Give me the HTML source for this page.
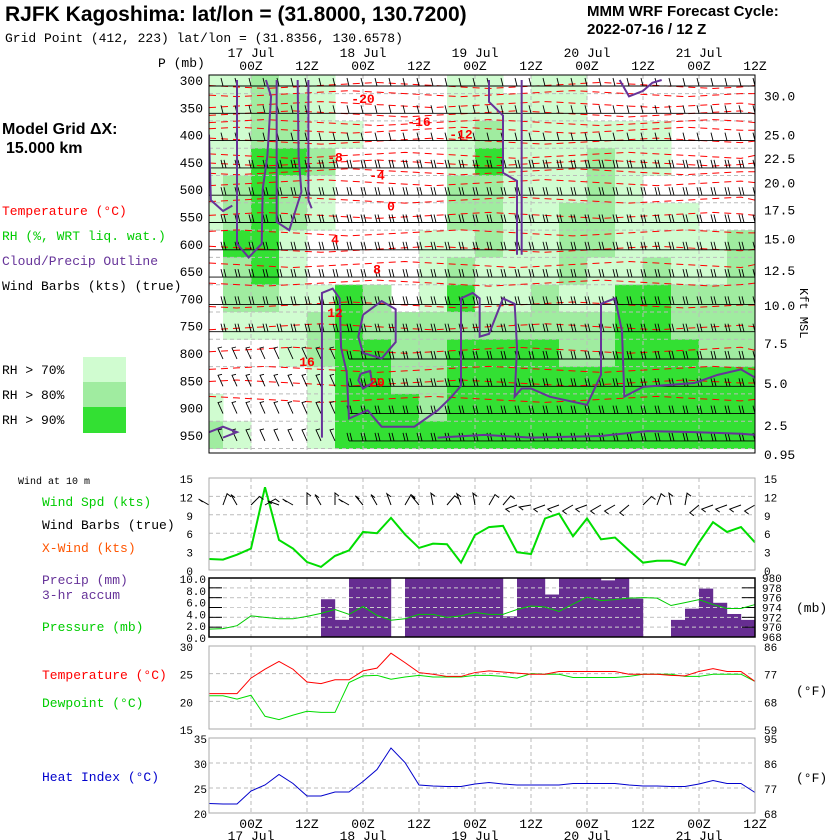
<!DOCTYPE html>
<html><head><meta charset="utf-8"><style>
html,body{margin:0;padding:0;background:#fff;}
svg{display:block;font-family:"Liberation Mono",monospace;}
.t{font-family:"Liberation Sans",sans-serif;font-weight:bold;}
</style></head><body>
<svg id="c" width="840" height="840" viewBox="0 0 840 840" xmlns="http://www.w3.org/2000/svg">
<text class="t" x="5" y="21" font-size="21">RJFK Kagoshima:  lat/lon = (31.8000, 130.7200)</text>
<text x="5" y="42" font-size="13">Grid Point (412, 223) lat/lon = (31.8356, 130.6578)</text>
<text class="t" x="587" y="16" font-size="15">MMM WRF Forecast Cycle:</text>
<text class="t" x="587" y="34" font-size="15">2022-07-16 / 12  Z</text>
<text class="t" x="2" y="134" font-size="16">Model Grid ΔX:</text>
<text class="t" x="6" y="153" font-size="16">15.000 km</text>
<g font-size="13">
<text x="2" y="215" fill="#ff0000">Temperature (°C)</text>
<text x="2" y="240" fill="#00cc00">RH (%, WRT liq. wat.)</text>
<text x="2" y="265" fill="#663399">Cloud/Precip Outline</text>
<text x="2" y="290" fill="#000">Wind Barbs (kts) (true)</text>
<text x="2" y="374">RH &gt; 70%</text>
<text x="2" y="399">RH &gt; 80%</text>
<text x="2" y="424">RH &gt; 90%</text>
</g>
<rect x="83" y="357" width="43" height="25" fill="#d0fcd0"/>
<rect x="83" y="382" width="43" height="25" fill="#a0eca0"/>
<rect x="83" y="407" width="43" height="26" fill="#33e033"/>
<text x="158" y="67" font-size="13">P (mb)</text>
<text x="820" y="268" font-size="12" transform="rotate(90 800 268)">Kft MSL</text>
<g font-size="13">
<text x="18" y="484" font-size="10">Wind at 10 m</text>
<text x="42" y="506" fill="#00cc00">Wind Spd (kts)</text>
<text x="42" y="529">Wind Barbs (true)</text>
<text x="42" y="552" fill="#ff5500">X-Wind (kts)</text>
<text x="42" y="584" fill="#663399">Precip (mm)</text>
<text x="42" y="599" fill="#663399">3-hr accum</text>
<text x="42" y="631" fill="#00cc00">Pressure (mb)</text>
<text x="42" y="679" fill="#ff0000">Temperature (°C)</text>
<text x="42" y="707" fill="#00cc00">Dewpoint (°C)</text>
<text x="42" y="781" fill="#0000cc">Heat Index (°C)</text>
<text x="796" y="612">(mb)</text>
<text x="796" y="695">(°F)</text>
<text x="796" y="782">(°F)</text>
</g>
<g id="plots"></g>
</svg>
<script>
// ---------- data ----------
const hours = []; for (let i = 0; i < 40; i++) hours.push(-9 + 3 * i);
const levels = [300,350,400,450,500,550,600,650,700,750,800,850,900,950];
const rhCols = [-9,-3,3,9,15,21,27,33,39,45,51,57,63,69,75,81,87,93,99,105];
const rhGrid = [
[1,1,2,1,1,0,0,0,0,1,1,0,1,1,0,0,0,0,0,0],
[1,1,2,2,1,0,0,0,0,1,1,1,1,1,0,0,0,0,0,0],
[1,1,2,2,1,1,0,0,0,1,2,1,1,1,1,1,1,0,0,0],
[1,1,3,3,2,0,0,0,0,1,3,1,1,1,2,1,1,0,0,0],
[1,2,3,2,1,0,0,0,0,2,2,1,1,1,2,1,0,0,0,0],
[1,2,3,2,1,0,0,0,0,2,2,1,1,2,2,1,1,1,0,0],
[0,3,3,1,0,0,0,0,1,1,2,1,1,2,2,1,1,1,1,2],
[0,2,3,1,0,0,0,0,1,2,1,1,1,2,1,1,2,1,1,2],
[0,2,2,1,1,3,2,0,1,3,1,1,2,1,1,3,3,2,2,2],
[0,1,1,1,2,3,2,2,2,2,2,2,2,2,2,3,3,2,2,2],
[0,0,0,1,2,3,3,2,2,3,3,3,3,2,2,3,3,3,2,2],
[0,0,0,0,1,3,3,2,2,3,3,3,3,3,3,3,3,3,3,3],
[1,0,0,0,1,3,3,3,2,3,3,3,3,3,3,3,3,3,3,3],
[2,1,0,0,1,3,3,3,3,3,3,3,3,3,3,3,3,3,3,3]];
const isoTemps = [-22,-20,-18,-16,-14,-12,-10,-8,-6,-4,-2,0,2,4,6,8,10,12,14,16,18,20,22];
const isoP = [310,325,345,362,378,392,412,438,452,468,488,520,548,580,610,638,672,712,752,795,830,855,885];
const isoLabT = [-20,-16,-12,-8,-4,0,4,8,12,16,20];
const isoLabH = [24,36,45,18,27,30,18,27,18,12,27];
const isoLabP = [333,375,398,440,473,530,590,645,725,815,852];
const windSpd = [1.8,1.7,2.5,3.5,13.5,4.9,3.5,1.3,0.5,2.3,3.2,6.2,6,8.5,5.8,3.6,4.3,4.2,1.2,5.7,7,7.2,2.9,2.6,8.4,9.2,5.5,8.4,5,5.3,3.2,1.2,1.5,1.5,0.8,4.5,7.8,6.2,7,4.5];
const windDir = [300,20,330,45,60,290,300,0,330,0,300,320,330,340,30,320,350,40,340,350,30,40,250,260,250,250,240,250,240,240,230,45,20,350,10,230,250,250,250,240];
const precip = [0,0,0,0,0,0,0,0,6.4,2.9,10,10,10,0,10,10,10,10,10,10,10,3.5,10,10,7.2,10,10,10,9.6,10,6.5,0,0,2.9,4.8,8.2,5.8,3.9,2.9];
const pres = [969.6,969.7,970.3,972.3,972,971.7,971.7,972.2,972.8,973.6,972.6,974.2,972.4,971.4,971.7,972.6,972.6,972,972.3,973,972.6,972.6,973.6,974.3,974.1,973.2,974.7,976.1,975.4,975.6,975.9,976,975.9,974.4,975,975.6,974.6,973.8,973.8,974.6];
const temp = [21.4,21.4,21.4,24.2,25.8,27.2,25.8,23.5,23.2,23.9,23.9,25.5,26,28.7,27,25.2,24.9,24.5,24.5,25.2,25.5,25.3,25.1,24.9,24.9,25.4,25.4,25.4,25.4,25.4,24.9,24.9,24.9,24.7,24.6,25.4,25.9,25.4,25.4,23.6];
const dewp = [21,21,20.4,21.1,17.3,16.7,17.5,18.2,18,18,23.4,24.6,24.7,24,24.4,24.7,24.4,24.4,24.4,24.7,24.7,24.5,24.2,25,24.9,24.9,24.3,24.3,24.3,24.3,24.5,24.9,24.9,24.9,24.5,24.5,24.9,24.9,24.9,23.6];
const heat = [21.9,21.8,21.8,24.4,25.6,27.7,25.9,23.4,23.4,24.2,24.2,26.3,28.7,33,30.1,25.6,25.4,25.3,25.3,25.8,26.1,25.8,25.6,25.6,25.6,25.6,25.9,25.9,25.9,25.9,25.6,25.4,25.4,25.3,25.3,25.8,26.5,25.9,25.9,24.1];
const kmLabels = ["30.0","25.0","22.5","20.0","17.5","15.0","12.5","10.0","7.5","5.0","2.5","0.95"];
const kmP = [328,400,443,488,537,590,648,712,782,855,932,985];
const clouds = [
 [[-3,300],[-3,600],[-0.5,625],[2.3,600],[2.5,500],[3.5,440],[4.3,330],[3.2,300]],
 [[5.5,300],[5.5,560],[8.2,575],[10.8,505],[10.2,440],[10,300]],
 [[-9,400],[-8.6,520],[-6,540],[-4,530]],
 [[12.3,300],[12.3,520],[13,535]],
 [[15.2,955],[15.2,690],[17.5,682],[19,700],[19.3,790],[20.5,835],[21,920],[25,905],[28,935],[35,935],[40,905],[43,880],[45,860],[45,700],[47.5,690],[49,700],[49,770],[51,765],[54,700],[56.5,710],[57,790],[56.5,880],[58,865],[60,865],[64,880],[72,895],[75,840],[75,710],[78,700],[79.5,760],[80,880],[84,862],[95,855],[100,840],[105,830],[108,845]],
 [[24,730],[28,705],[31,720],[31,780],[28,810],[24,800],[23,770],[24,730]],
 [[23.5,838],[25.5,833],[26,855],[24,865],[23,850],[23.5,838]],
 [[51,300],[51,340],[54,365],[54,470],[57,485],[57,620]],
 [[58,300],[58,620]],
 [[79,300],[81,330],[84,320],[86,305],[88,300]],
 [[-9,945],[-6,935],[-3,945],[-6,955]],
 [[40,955],[50,950],[60,955],[75,952],[85,943],[95,945],[105,948],[108,950]]
];
// ---------- axes ----------
const X = h => 251 + h * 56 / 12;
const PY = p => 80 + (p - 300) / 50 * 27.3;
const NS = "http://www.w3.org/2000/svg";
const root = document.getElementById('plots');
function mk(tag, attrs, parent) { const e = document.createElementNS(NS, tag); for (const k in attrs) e.setAttribute(k, attrs[k]); (parent || root).appendChild(e); return e; }
function txt(x, y, s, size, anchor, fill) { const t = mk('text', { x: x, y: y, 'font-size': size, 'text-anchor': anchor || 'start', fill: fill || '#000' }); t.textContent = s; return t; }
// ---------- upper panel ----------
const up = mk('g', {});


const clip = mk('clipPath', { id: 'cp' }, up); mk('rect', { x: 209, y: 75, width: 546, height: 378 }, clip);
const inner = mk('g', { 'clip-path': 'url(#cp)' }, up);
const rhCol = ['none', '#d0fcd0', '#a0eca0', '#33e033'];
for (let r = 0; r < levels.length; r++) for (let c = 0; c < rhCols.length; c++) {
  const v = rhGrid[r][c]; if (!v) continue;
  const cell = mk('rect', { x: X(rhCols[c] - 3), y: PY(levels[r] - 25), width: 28.5, height: 27.8, fill: rhCol[v] }, inner);
  
  
}
for (let d = 0; d <= 9; d++) mk('line', { x1: X(12 * d), x2: X(12 * d), y1: 75, y2: 453, stroke: '#bbb', 'stroke-dasharray': '4,3' }, inner);
levels.forEach(p => mk('line', { x1: 209, x2: 755, y1: PY(p) + 13.6, y2: PY(p) + 13.6, stroke: '#bbb', 'stroke-dasharray': '4,3' }, inner));
// isotherms
const isoOff = [0, 1, 2, 1, 0, -1, -2, -1];
isoTemps.forEach((T, k) => {
  let d = '';
  for (let j = 0; j < 40; j += 2) { const h = hours[j]; const y = PY(isoP[k]) + isoOff[(j / 2 + k) % 8] * 1.5; d += (j ? 'L' : 'M') + X(h) + ',' + y; }
  d += 'L' + X(108) + ',' + PY(isoP[k]);
  const l = mk('path', { d: d, fill: 'none', stroke: '#ff0000', 'stroke-width': 1, 'stroke-dasharray': '7,5' }, inner);
  
  
});
isoLabT.forEach((T, k) => { const t = txt(X(isoLabH[k]), PY(isoLabP[k]) + 5, String(T), 13, 'middle', '#ff0000'); t.setAttribute('font-weight', 'bold');   });
// wind barbs
levels.forEach((p, r) => {
  const y = PY(p) + 6;
  const bg = mk('g', { stroke: '#000', 'stroke-width': 0.9, fill: 'none' }, inner);
  
  
  const startH = p >= 800 ? 21 : -9;
  mk('line', { x1: X(startH), x2: 755, y1: y, y2: y }, bg);
  for (let j = 1; j < 40; j++) {
    const x = X(hours[j]);
    if (hours[j] < startH) { mk('path', { d: `M${x},${y}L${x - 5},${y - 11}L${x - 1},${y - 12}` }, bg); continue; }
    const n = r < 3 ? 1 : 2;
    let d = '';
    for (let f = 0; f < n; f++) d += `M${x + f * 3},${y}L${x + f * 3 - 2},${y - 8}`;
    mk('path', { d: d }, bg);
  }
});
clouds.forEach(c => {
  const d = c.map((q, i) => (i ? 'L' : 'M') + X(q[0]) + ',' + PY(q[1])).join('');
  const pth = mk('path', { d: d, fill: 'none', stroke: '#663399', 'stroke-width': 2 }, inner);
  
  
});
mk('rect', { x: 209, y: 75, width: 546, height: 378, fill: 'none', stroke: '#000', 'stroke-width': 1 }, up);
levels.forEach(p => { const t = txt(203, PY(p) + 5, String(p), 13, 'end');   });
kmLabels.forEach((s, k) => { const t = txt(764, PY(kmP[k]) + 5, s, 13);   });
// time labels
const days = ['17 Jul', '18 Jul', '19 Jul', '20 Jul', '21 Jul'];
for (let k = 0; k < 10; k++) {
  const h = k * 12, lab = (k % 2 ? '12Z' : '00Z');
  let t = txt(X(h), 70, lab, 13, 'middle');  
  t = txt(X(h), 828, lab, 13, 'middle');  
  if (k % 2 === 0) {
    t = txt(X(h), 57, days[k / 2], 13, 'middle');  
    t = txt(X(h), 840, days[k / 2], 13, 'middle');  
  }
}
// ---------- lower panels ----------
function panel(name) {
  const g = mk('g', {});
  
  
  return g;
}
function grid(g, top, bot, n) {
  for (let k = 1; k < n; k++) { const y = top + (bot - top) * k / n; mk('line', { x1: 209, x2: 755, y1: y, y2: y, stroke: '#bbb', 'stroke-dasharray': '4,3' }, g); }
  for (let k = 0; k < 10; k++) mk('line', { x1: X(k * 12), x2: X(k * 12), y1: top, y2: bot, stroke: '#bbb', 'stroke-dasharray': '4,3' }, g);
}
function line(g, arr, f, color, w, name) {
  const d = arr.map((v, i) => (i ? 'L' : 'M') + X(hours[i]) + ',' + f(v)).join('');
  const p = mk('path', { d: d, fill: 'none', stroke: color, 'stroke-width': w }, g);
  
  
}
// wind
const gw = panel('wind-panel');
const WY = v => 570 - v * (92 / 15);
grid(gw, 478, 570, 5);
line(gw, windSpd, WY, '#00dd00', 2, 'wind-speed-line');
for (let v = 0; v <= 15; v += 3) { let t = txt(193, WY(v) + 5, String(v), 11, 'end');   t = txt(764, WY(v) + 5, String(v), 11);   }
windDir.forEach((dd, i) => {
  const x = X(hours[i]), y = 505, a = dd * Math.PI / 180;
  const b = mk('path', { d: `M${x},${y}L${x + 12 * Math.sin(a)},${y - 12 * Math.cos(a)}L${x + 12 * Math.sin(a) + 4},${y - 12 * Math.cos(a) + 3}`, fill: 'none', stroke: '#000' }, gw);
  
  
});
mk('rect', { x: 209, y: 478, width: 546, height: 92, fill: 'none', stroke: '#aaa' }, gw);
// precip
const gp = panel('precip-pressure-panel');
const PRY = v => 637 - v * 5.9, MBY = v => 637 - (v - 968) * 59 / 12;
grid(gp, 578, 637, 6);
precip.forEach((v, j) => { if (!v) return; const r = mk('rect', { x: X(hours[j]), y: PRY(v), width: 14.2, height: 637 - PRY(v), fill: '#662d91' }, gp);   });
for (let k = 1; k < 6; k++) { const y = 578 + 59 * k / 6; mk('line', { x1: 209, x2: 755, y1: y, y2: y, stroke: '#ccc', 'stroke-dasharray': '4,3' }, gp); mk('line', { x1: 209, x2: 222, y1: y, y2: y, stroke: '#000' }, gp); mk('line', { x1: 742, x2: 755, y1: y, y2: y, stroke: '#000' }, gp); }
line(gp, pres, MBY, '#00cc00', 1, 'pressure-line');
mk('rect', { x: 209, y: 578, width: 546, height: 59, fill: 'none', stroke: '#000', 'stroke-width': 1.5 }, gp);
for (let v = 0; v <= 10; v += 2) { const t = txt(206, PRY(v) + 5, v.toFixed(1), 11, 'end');   }
for (let v = 968; v <= 980; v += 2) { const t = txt(762, MBY(v) + 4, String(v), 11);   }
// temperature
const gt = panel('temperature-panel');
const TY = v => 646 + (30 - v) * 83 / 15;
grid(gt, 646, 729, 3);
line(gt, dewp, TY, '#00dd00', 1, 'dewpoint-line');
line(gt, temp, TY, '#ff0000', 1, 'temperature-line');
mk('rect', { x: 209, y: 646, width: 546, height: 83, fill: 'none', stroke: '#aaa' }, gt);
[15, 20, 25, 30].forEach(v => { const t = txt(193, TY(v) + 5, String(v), 11, 'end');   });
[['59', 15], ['68', 20], ['77', 25], ['86', 30]].forEach(q => { const t = txt(764, TY(q[1]) + 5, q[0], 11);   });
// heat index
const gh = panel('heat-index-panel');
const HY = v => 738 + (35 - v) * 5;
grid(gh, 738, 813, 3);
line(gh, heat, HY, '#0000cc', 1, 'heat-index-line');
mk('rect', { x: 209, y: 738, width: 546, height: 75, fill: 'none', stroke: '#aaa' }, gh);
[20, 25, 30, 35].forEach(v => { const t = txt(207, HY(v) + 5, String(v), 11, 'end');   });
[['68', 20], ['77', 25], ['86', 30], ['95', 35]].forEach(q => { const t = txt(764, HY(q[1]) + 5, q[0], 11);   });
</script>
</body></html>
